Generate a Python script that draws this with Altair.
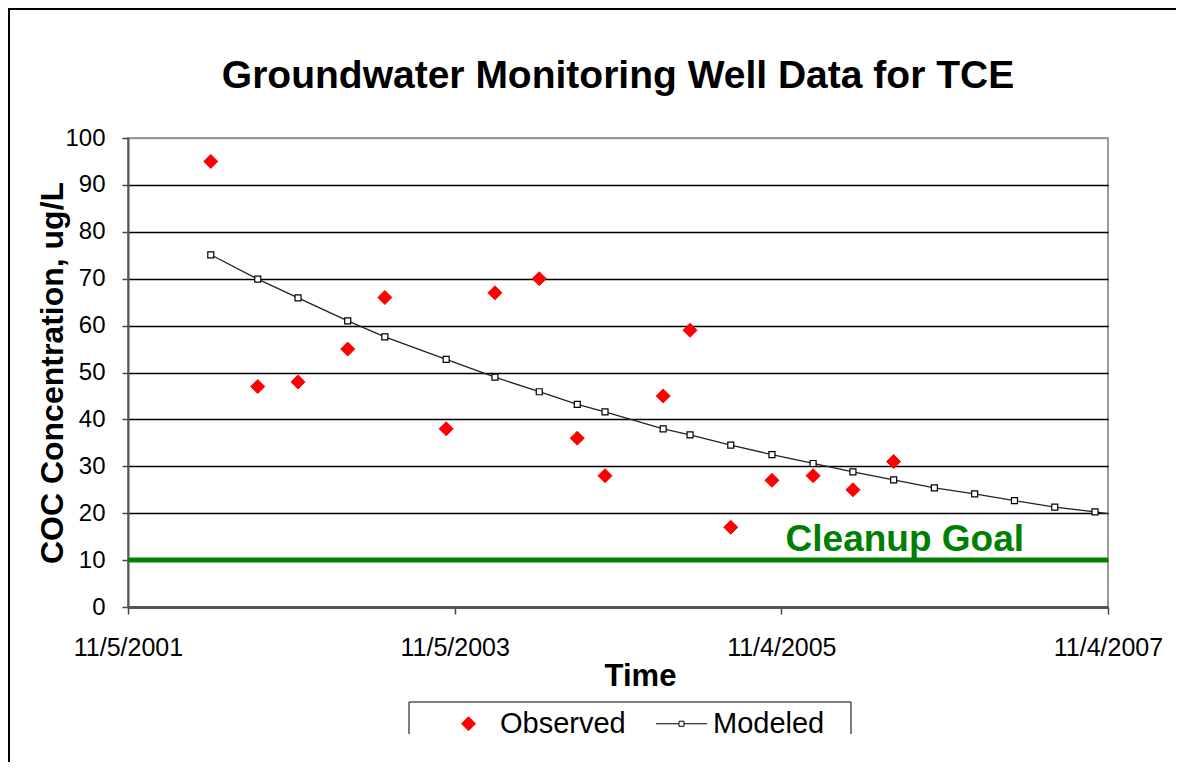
import altair as alt
import pandas as pd

# ---------------- data ----------------
obs_dates = ["2002-05-09", "2002-08-22", "2002-11-20", "2003-03-11", "2003-06-02",
             "2003-10-17", "2004-02-03", "2004-05-12", "2004-08-05", "2004-10-06",
             "2005-02-13", "2005-04-14", "2005-07-14", "2005-10-14", "2006-01-14",
             "2006-04-13", "2006-07-13"]
obs_values = [95, 47, 48, 55, 66, 38, 67, 70, 36, 28, 45, 59, 17, 27, 28, 25, 31]

model_dates = ["2002-05-09", "2002-08-22", "2002-11-20", "2003-03-11", "2003-06-02",
               "2003-10-17", "2004-02-03", "2004-05-12", "2004-08-05", "2004-10-06",
               "2005-02-13", "2005-04-14", "2005-07-14", "2005-10-14", "2006-01-14",
               "2006-04-13", "2006-07-13", "2006-10-12", "2007-01-10", "2007-04-09",
               "2007-07-08", "2007-10-06", "2008-01-05"]
model_values = [75.1, 69.9, 65.9, 61.0, 57.6, 52.8, 49.0, 45.9, 43.2, 41.6, 38.0, 36.7,
                34.5, 32.5, 30.6, 28.8, 27.1, 25.4, 24.1, 22.7, 21.3, 20.3, 19.1]

series_names = ["Observed", "Modeled"]
goal_value = [10]
goal_label = ["Cleanup Goal"]
goal_label_date = ["2006-08-07"]
y_ticks = [0, 10, 20, 30, 40, 50, 60, 70, 80, 90, 100]
title_text = "Groundwater Monitoring Well Data for TCE"

FONT = "Liberation Sans"
W, H = 980, 469
PAD = {"left": 120, "top": 130, "right": 68, "bottom": 155}
SVG_W = PAD["left"] + W + PAD["right"]
SVG_H = PAD["top"] + H + PAD["bottom"]

obs_df = pd.DataFrame({"date": obs_dates, "value": obs_values, "series": "Observed"})
model_df = pd.DataFrame({"date": model_dates, "value": model_values})
goal_df = pd.DataFrame({"goal": goal_value})
label_df = pd.DataFrame({"date": goal_label_date, "goal": goal_value, "label": goal_label})

x_domain = [alt.DateTime(year=2001, month=11, date=5, utc=True),
            alt.DateTime(year=2007, month=11, date=4, utc=True)]
x_ticks = [alt.DateTime(year=2001, month=11, date=5, utc=True),
           alt.DateTime(year=2003, month=11, date=5, utc=True),
           alt.DateTime(year=2005, month=11, date=4, utc=True),
           alt.DateTime(year=2007, month=11, date=4, utc=True)]

x_enc = alt.X(
    "date:T",
    scale=alt.Scale(type="utc", domain=x_domain),
    axis=alt.Axis(
        values=x_ticks, title="Time", grid=False,
        labelExpr="utcFormat(datum.value, '%-m/%-d/%Y')",
        labelFontSize=25, labelFont=FONT, labelColor="black",
        labelPadding=21, labelFlush=False, labelOverlap=False,
        tickSize=7, tickColor="#444", tickWidth=1.5,
        domainColor="#555", domainWidth=3,
        titleFontSize=31, titleFont=FONT, titleFontWeight="bold", titleColor="black",
        titleBaseline="alphabetic", titleY=78, titleX=512,
    ),
)
y_enc = alt.Y(
    "value:Q",
    scale=alt.Scale(domain=[0, 100], nice=False),
    axis=alt.Axis(
        values=y_ticks, title="COC Concentration, ug/L",
        labelFontSize=24, labelFont=FONT, labelColor="black",
        labelPadding=17, labelFlush=False,
        tickSize=6, tickColor="#444", tickWidth=1.5,
        domainColor="#555", domainWidth=2,
        grid=True, gridWidth=1.3,
        gridColor={"condition": {"test": "datum.value === 100 || datum.value === 0",
                                 "value": "#999999"}, "value": "black"},
        titleFontSize=32, titleFont=FONT, titleFontWeight="bold", titleColor="black",
        titleBaseline="alphabetic", titleX=-66, titleAngle=270,
    ),
)

modeled_path = "M-3.64,0H-0.36M0.36,0H3.64M-0.36,-0.36H0.36V0.36H-0.36Z"


def legend():
    return alt.Legend(
        title=None, orient="none", legendX=326, legendY=571,
        direction="horizontal", padding=0, symbolSize=196,
        symbolStrokeWidth=1, labelFontSize=29, labelFont=FONT,
        labelColor="black", labelOffset=17, columnPadding=28,
        strokeColor="transparent")


observed = alt.Chart(obs_df).mark_point(filled=True, opacity=1, size=196, strokeWidth=1).encode(
    x=x_enc,
    y=y_enc,
    fill=alt.Fill("series:N", scale=alt.Scale(domain=series_names, range=["#FF0000", "white"]),
                  legend=legend()),
    stroke=alt.Stroke("series:N", scale=alt.Scale(domain=series_names, range=["#FF0000", "black"]),
                      legend=legend()),
    shape=alt.Shape("series:N", scale=alt.Scale(domain=series_names, range=["diamond", modeled_path]),
                    legend=legend()),
)

model_line = alt.Chart(model_df).mark_line(color="#222", strokeWidth=1.3, clip=True).encode(
    x="date:T", y="value:Q")
model_pts = alt.Chart(model_df).mark_point(shape="square", size=36, filled=False, fill="white",
                                           stroke="black", strokeWidth=1.2, opacity=1,
                                           clip=True).encode(x="date:T", y="value:Q")

goal_rule = alt.Chart(goal_df).mark_rule(color="#008000", strokeWidth=5).encode(y="goal:Q")
goal_text = alt.Chart(label_df).mark_text(
    color="#008000", fontSize=37, fontWeight="bold", font=FONT,
    align="center", baseline="alphabetic", dy=-9).encode(
    x="date:T", y="goal:Q", text="label:N")

title = alt.Chart(pd.DataFrame({"t": [title_text]})).mark_text(
    fontSize=39, fontWeight="bold", font=FONT, color="black",
    align="center", baseline="alphabetic").encode(
    text="t:N", x=alt.value(W / 2), y=alt.value(-50))

one = pd.DataFrame({"a": [0]})
frame_left = alt.Chart(one).mark_rule(color="black", strokeWidth=2).encode(
    x=alt.value(-119), y=alt.value(-130), y2=alt.value(SVG_H - PAD["top"]))
frame_top = alt.Chart(one).mark_rule(color="black", strokeWidth=2).encode(
    x=alt.value(-120), x2=alt.value(SVG_W - PAD["left"]), y=alt.value(-129))
lg_left = alt.Chart(one).mark_rule(color="#555", strokeWidth=1.5).encode(
    x=alt.value(281), y=alt.value(564), y2=alt.value(596))
lg_top = alt.Chart(one).mark_rule(color="#555", strokeWidth=1.5).encode(
    x=alt.value(281), x2=alt.value(723), y=alt.value(564))
lg_right = alt.Chart(one).mark_rule(color="#555", strokeWidth=1.5).encode(
    x=alt.value(723), y=alt.value(564), y2=alt.value(596))

chart = alt.layer(
    goal_rule, model_line, model_pts, observed, goal_text, title,
    frame_left, frame_top, lg_left, lg_top, lg_right,
).properties(
    width=W, height=H,
    autosize=alt.AutoSizeParams(type="none"),
    padding=PAD,
    background="white",
).configure_view(
    stroke="#999999", strokeWidth=2, fill="white",
)

chart.save("out.html", embed_options={"renderer": "svg", "actions": False})
